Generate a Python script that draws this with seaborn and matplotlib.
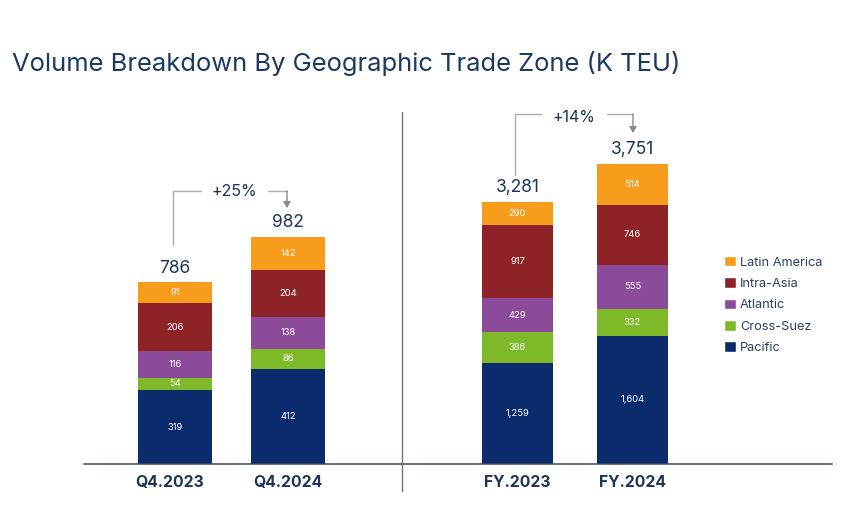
import numpy as np
import matplotlib
matplotlib.use("Agg")
import matplotlib.pyplot as plt
from matplotlib.patches import Patch
from matplotlib.transforms import ScaledTranslation
import seaborn as sns

sns.set_theme(style="white")
plt.rcParams["font.family"] = ["Inter", "DejaVu Sans"]

zones = ["Pacific", "Cross-Suez", "Atlantic", "Intra-Asia", "Latin America"]
zone_colors = ["#0B2C6C", "#7DB928", "#8C4A9A", "#8E2327", "#F89C1C"]

quarters = ["Q4.2023", "Q4.2024"]
q_pacific = [319, 412]
q_suez = [54, 86]
q_atlantic = [116, 138]
q_intra = [206, 204]
q_latin = [91, 142]
q_totals = ["786", "982"]
q_growth = "+25%"

years = ["FY.2023", "FY.2024"]
y_pacific = [1259, 1604]
y_suez = [386, 332]
y_atlantic = [429, 555]
y_intra = [917, 746]
y_latin = [290, 514]
y_totals = ["3,281", "3,751"]
y_growth = "+14%"

W, H = 853, 507
NAVY = "#1C3557"
BASE = 464
TOP = 100

fig = plt.figure(figsize=(W / 100, H / 100), dpi=100, facecolor="white")


def axes_px(x0, x1):
    return fig.add_axes([x0 / W, 1 - BASE / H, (x1 - x0) / W, (BASE - TOP) / H])


def stacked(ax, cats, series, totals, width, label_size):
    bottom = np.zeros(len(cats))
    for vals, col in zip(series, zone_colors):
        sns.barplot(x=cats, y=vals, order=cats, color=col, saturation=1, width=width,
                    bottom=bottom, errorbar=None, linewidth=0, edgecolor="none", ax=ax)
        c = ax.containers[-1]
        ax.bar_label(c, labels=[f"{v:,}" for v in vals], label_type="center",
                     color="white", fontsize=label_size)
        bottom = bottom + np.array(vals)
    for i, t in enumerate(totals):
        ax.annotate(t, (i, bottom[i]), xytext=(0, 4), textcoords="offset points",
                    ha="center", va="bottom", fontsize=12.5, color=NAVY)
    ax.set_xlabel("")
    ax.set_ylabel("")
    ax.set_yticks([])
    ax.tick_params(axis="x", length=0, pad=8)
    ax.set_xticks(range(len(cats)))
    ax.set_xticklabels(cats, fontsize=11.3, fontweight="bold", color=NAVY)
    for s in ("top", "left", "right"):
        ax.spines[s].set_visible(False)
    ax.spines["bottom"].set_color("#3C4A5C")
    ax.spines["bottom"].set_linewidth(1.1)
    ax.patch.set_alpha(0)


ax1 = axes_px(84, 402)
stacked(ax1, quarters, [q_pacific, q_suez, q_atlantic, q_intra, q_latin], q_totals, 0.655, 6.8)
ax1.set_xlim(-0.805, 2.009)
ax1.set_ylim(0, (BASE - TOP) / 0.2313)
lab = ax1.get_xticklabels()[0]
lab.set_transform(lab.get_transform() + ScaledTranslation(-5 / 72 * 0.72, 0, fig.dpi_scale_trans))

ax2 = axes_px(402, 832)
stacked(ax2, years, [y_pacific, y_suez, y_atlantic, y_intra, y_latin], y_totals, 0.617, 6.8)
ax2.set_xlim(-1.004, 2.735)
ax2.set_ylim(0, (BASE - TOP) / 0.08)

# overlay in pixel units for decoration
ov = fig.add_axes([0, 0, 1, 1], zorder=5)
ov.set_xlim(0, W)
ov.set_ylim(H, 0)
ov.axis("off")
ov.patch.set_alpha(0)
ov.plot([402, 402], [112, 491], color="#6B7480", lw=1)

GREY = "#A9ADB2"
for (xa, ya, xb, xc, xd, yt, yd, txt, tx, ty) in [
    (173, 245, 201, 268, 287, 191, 208, q_growth, 234, 191),
    (515, 175, 541, 607, 633, 114, 133, y_growth, 574, 118),
]:
    ov.plot([xa, xa, xb], [ya, yt, yt], color=GREY, lw=1)
    ov.plot([xc, xd], [yt, yt], color=GREY, lw=1)
    ov.annotate("", xy=(xd, yd), xytext=(xd, yt),
                arrowprops=dict(arrowstyle="-|>,head_width=0.18,head_length=0.3", color="#85898E",
                                lw=1, shrinkA=0, shrinkB=0))
    ov.text(tx, ty, txt, ha="center", va="center", fontsize=11.5, color=NAVY)

fig.text(12 / W, 1 - 64 / H, "Volume Breakdown By Geographic Trade Zone (K TEU)",
         fontsize=18.4, color="#1B3A62", va="center", ha="left")

handles = [Patch(facecolor=c, label=z) for z, c in zip(zones[::-1], zone_colors[::-1])]
fig.legend(handles=handles, loc="center left", bbox_to_anchor=(719 / W, 1 - 305 / H),
           frameon=False, fontsize=9.2, labelcolor="#2A4060", handlelength=0.9, handleheight=0.9,
           handletextpad=0.35, labelspacing=0.68, borderpad=0, borderaxespad=0.4)

fig.savefig("out.png", dpi=100, facecolor="white")
